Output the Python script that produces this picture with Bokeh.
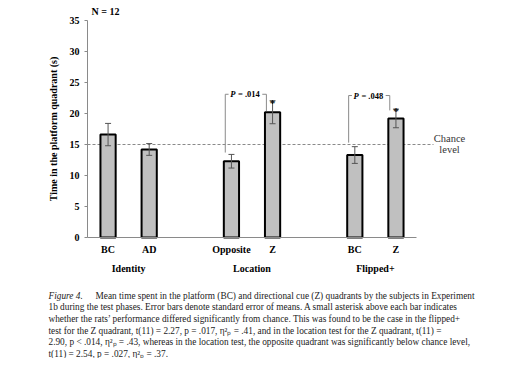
from bokeh.plotting import figure
from bokeh.models import (Range1d, ColumnDataSource, Whisker, TeeHead, Label,
                          FixedTicker, LinearAxis)
from bokeh.embed import file_html
from bokeh.resources import INLINE

# ---------------- data ----------------
groups = ["Identity", "Identity", "Location", "Location", "Flipped+", "Flipped+"]
quadrants = ["BC", "AD", "Opposite", "Z", "BC", "Z"]
means = [16.6, 14.2, 12.3, 20.2, 13.3, 19.2]
sems = [1.8, 0.95, 1.1, 1.85, 1.35, 1.5]
chance_level = 15
y_ticks = [0, 5, 10, 15, 20, 25, 30, 35]
y_max = 35
n_label = "N = 12"

# significance brackets: (from bar index, to bar index)
bracket_from = [2, 4]
bracket_to = [3, 5]
bracket_p = [".014", ".048"]
bracket_top = [23.1, 22.9]
bracket_left_bottom = [13.7, 15.3]
bracket_right_bottom = [20.4, 20.5]
asterisk_bars = [3, 5]

caption_lines = [
    "Mean time spent in the platform (BC) and directional cue (Z) quadrants by the subjects in Experiment",
    "1b during the test phases. Error bars denote standard error of means. A small asterisk above each bar indicates",
    "whether the rats\u2019 performance differed significantly from chance. This was found to be the case in the flipped+",
    "test for the Z quadrant, t(11) = 2.27, p = .017, \u03b7\u00b2\u209a = .41, and in the location test for the Z quadrant, t(11) =",
    "2.90, p < .014, \u03b7\u00b2\u209a = .43, whereas in the location test, the opposite quadrant was significantly below chance level,",
    "t(11) = 2.54, p = .027, \u03b7\u00b2\u209a = .37.",
]

# ---------------- layout ----------------
SERIF = "Liberation Serif"
W, H = 512, 358
AX_X, AX_TOP, AX_Y = 87, 20, 237      # pixel position of axis origin / top
UNIT_PX = 41.125                       # pixels per bar slot
Y_PX = (AX_Y - AX_TOP) / y_max         # pixels per second


def px(page_x):
    return (page_x - AX_X) / UNIT_PX


def py(page_y):
    return (AX_Y - page_y) / Y_PX


# bar slot positions: one slot per bar, one empty slot between groups
positions = []
pos = 0.5
for i in range(len(groups)):
    if i > 0:
        pos += 1.0 + (1.0 if groups[i] != groups[i - 1] else 0.0)
    positions.append(pos)
x_axis_end = positions[-1] + 0.5
group_names, group_centers = [], []
for g in dict.fromkeys(groups):
    idx = [i for i, gg in enumerate(groups) if gg == g]
    group_names.append(g)
    group_centers.append(sum(positions[i] for i in idx) / len(idx))

src = ColumnDataSource(dict(
    x=positions, top=means,
    upper=[m + s for m, s in zip(means, sems)],
    lower=[m - s for m, s in zip(means, sems)],
))

# the frame covers the whole canvas; axes are pinned to the data origin
p = figure(x_range=Range1d(px(0), px(W)), y_range=Range1d(py(H), py(0)),
           width=W, height=H, output_backend="svg", toolbar_location=None,
           min_border=0)
p.outline_line_color = None
p.xgrid.visible = False
p.ygrid.visible = False

# chance level line (behind bars), running past the axis end
p.segment(x0=[0], y0=[chance_level], x1=[px(433)], y1=[chance_level],
          line_color="#8a8a8a", line_width=1, line_dash="3 2")

p.vbar(x="x", top="top", width=0.37, source=src, fill_color="#c0c0c0",
       line_color="black", line_width=2)

w = Whisker(source=src, base="x", upper="upper", lower="lower",
            line_color="#555555", line_width=1, level="annotation",
            upper_head=TeeHead(size=6, line_color="#555555", line_width=1),
            lower_head=TeeHead(size=6, line_color="#555555", line_width=1))
p.add_layout(w)

# brackets
for bf, bt, pv, top, lb, rb in zip(bracket_from, bracket_to, bracket_p, bracket_top,
                                  bracket_left_bottom, bracket_right_bottom):
    xl = positions[bf] - 0.15
    xr = positions[bt] - 0.15
    p.line([xl, xl, xl + 0.08], [lb, top, top], line_color="#8a8a8a", line_width=1)
    p.line([xr - 0.1, xr, xr], [top, top, rb], line_color="#8a8a8a", line_width=1)
    p.add_layout(Label(x=xl + 0.12, y=top, text="P", text_font=SERIF,
                       text_font_style="bold italic", text_font_size="8.5px",
                       text_baseline="middle", text_align="left", text_color="black"))
    p.add_layout(Label(x=xl + 0.31, y=top, text="= " + pv, text_font=SERIF,
                       text_font_style="bold", text_font_size="8.5px",
                       text_baseline="middle", text_align="left", text_color="black"))

for b in asterisk_bars:
    p.add_layout(Label(x=positions[b], y=means[b] + sems[b] - 0.3, text="*",
                       text_font=SERIF, text_font_style="bold", text_font_size="11px",
                       text_align="center", text_baseline="alphabetic",
                       text_color="black"))

p.add_layout(Label(x=px(105), y=py(11), text=n_label, text_font=SERIF,
                   text_font_style="bold", text_font_size="10px", text_align="center",
                   text_baseline="middle", text_color="black"))

p.add_layout(Label(x=px(449), y=py(138), text="Chance", text_font=SERIF,
                   text_font_size="10.5px", text_align="center",
                   text_baseline="middle", text_color="#333333"))
p.add_layout(Label(x=px(449), y=py(149), text="level", text_font=SERIF,
                   text_font_size="10.5px", text_align="center",
                   text_baseline="middle", text_color="#333333"))

# y axis
ya = p.yaxis[0]
ya.fixed_location = 0
ya.bounds = (0, y_max)
ya.ticker = FixedTicker(ticks=y_ticks)
ya.axis_line_color = "#8a8a8a"
ya.major_tick_line_color = "#8a8a8a"
ya.major_tick_out = 3
ya.major_tick_in = 0
ya.minor_tick_line_color = None
ya.major_label_standoff = 5
ya.major_label_text_font = SERIF
ya.major_label_text_font_style = "bold"
ya.major_label_text_font_size = "10px"
ya.major_label_text_color = "black"
ya.axis_label = "Time in the platform quadrant (s)"
ya.axis_label_text_font = SERIF
ya.axis_label_text_font_style = "bold"
ya.axis_label_text_font_size = "10px"
ya.axis_label_text_color = "black"
ya.axis_label_standoff = 8

# x axis (quadrants)
xa = p.xaxis[0]
xa.fixed_location = 0
xa.bounds = (0, x_axis_end)
xa.ticker = FixedTicker(ticks=positions)
xa.major_label_overrides = {v: q for v, q in zip(positions, quadrants)}
xa.axis_line_color = "#8a8a8a"
xa.major_tick_line_color = None
xa.major_tick_out = 0
xa.major_tick_in = 0
xa.minor_tick_line_color = None
xa.major_label_standoff = 6
xa.major_label_text_font = SERIF
xa.major_label_text_font_style = "bold"
xa.major_label_text_font_size = "10px"
xa.major_label_text_color = "black"

# group axis
ga = LinearAxis(ticker=FixedTicker(ticks=group_centers), fixed_location=0,
                bounds=(0, x_axis_end),
                major_label_overrides={v: g for v, g in zip(group_centers, group_names)},
                axis_line_color=None, major_tick_line_color=None,
                major_tick_out=0, major_tick_in=0,
                minor_tick_line_color=None, major_label_standoff=25,
                major_label_text_font=SERIF, major_label_text_font_style="bold",
                major_label_text_font_size="10px", major_label_text_color="black")
p.add_layout(ga, "below")

# caption
cap_x = 48
cap_y0 = 295
cap_dy = 11.7
CAP_FONT = "9.3px"
p.add_layout(Label(x=px(cap_x), y=py(cap_y0), text="Figure 4.", text_font=SERIF,
                   text_font_style="italic", text_font_size=CAP_FONT,
                   text_baseline="middle", text_color="#222222"))
for i, line in enumerate(caption_lines):
    x0 = 95 if i == 0 else cap_x
    p.add_layout(Label(x=px(x0), y=py(cap_y0 + i * cap_dy), text=line, text_font=SERIF,
                       text_font_size=CAP_FONT, text_baseline="middle",
                       text_color="#222222"))

open("out.html", "w").write(file_html(p, INLINE))
